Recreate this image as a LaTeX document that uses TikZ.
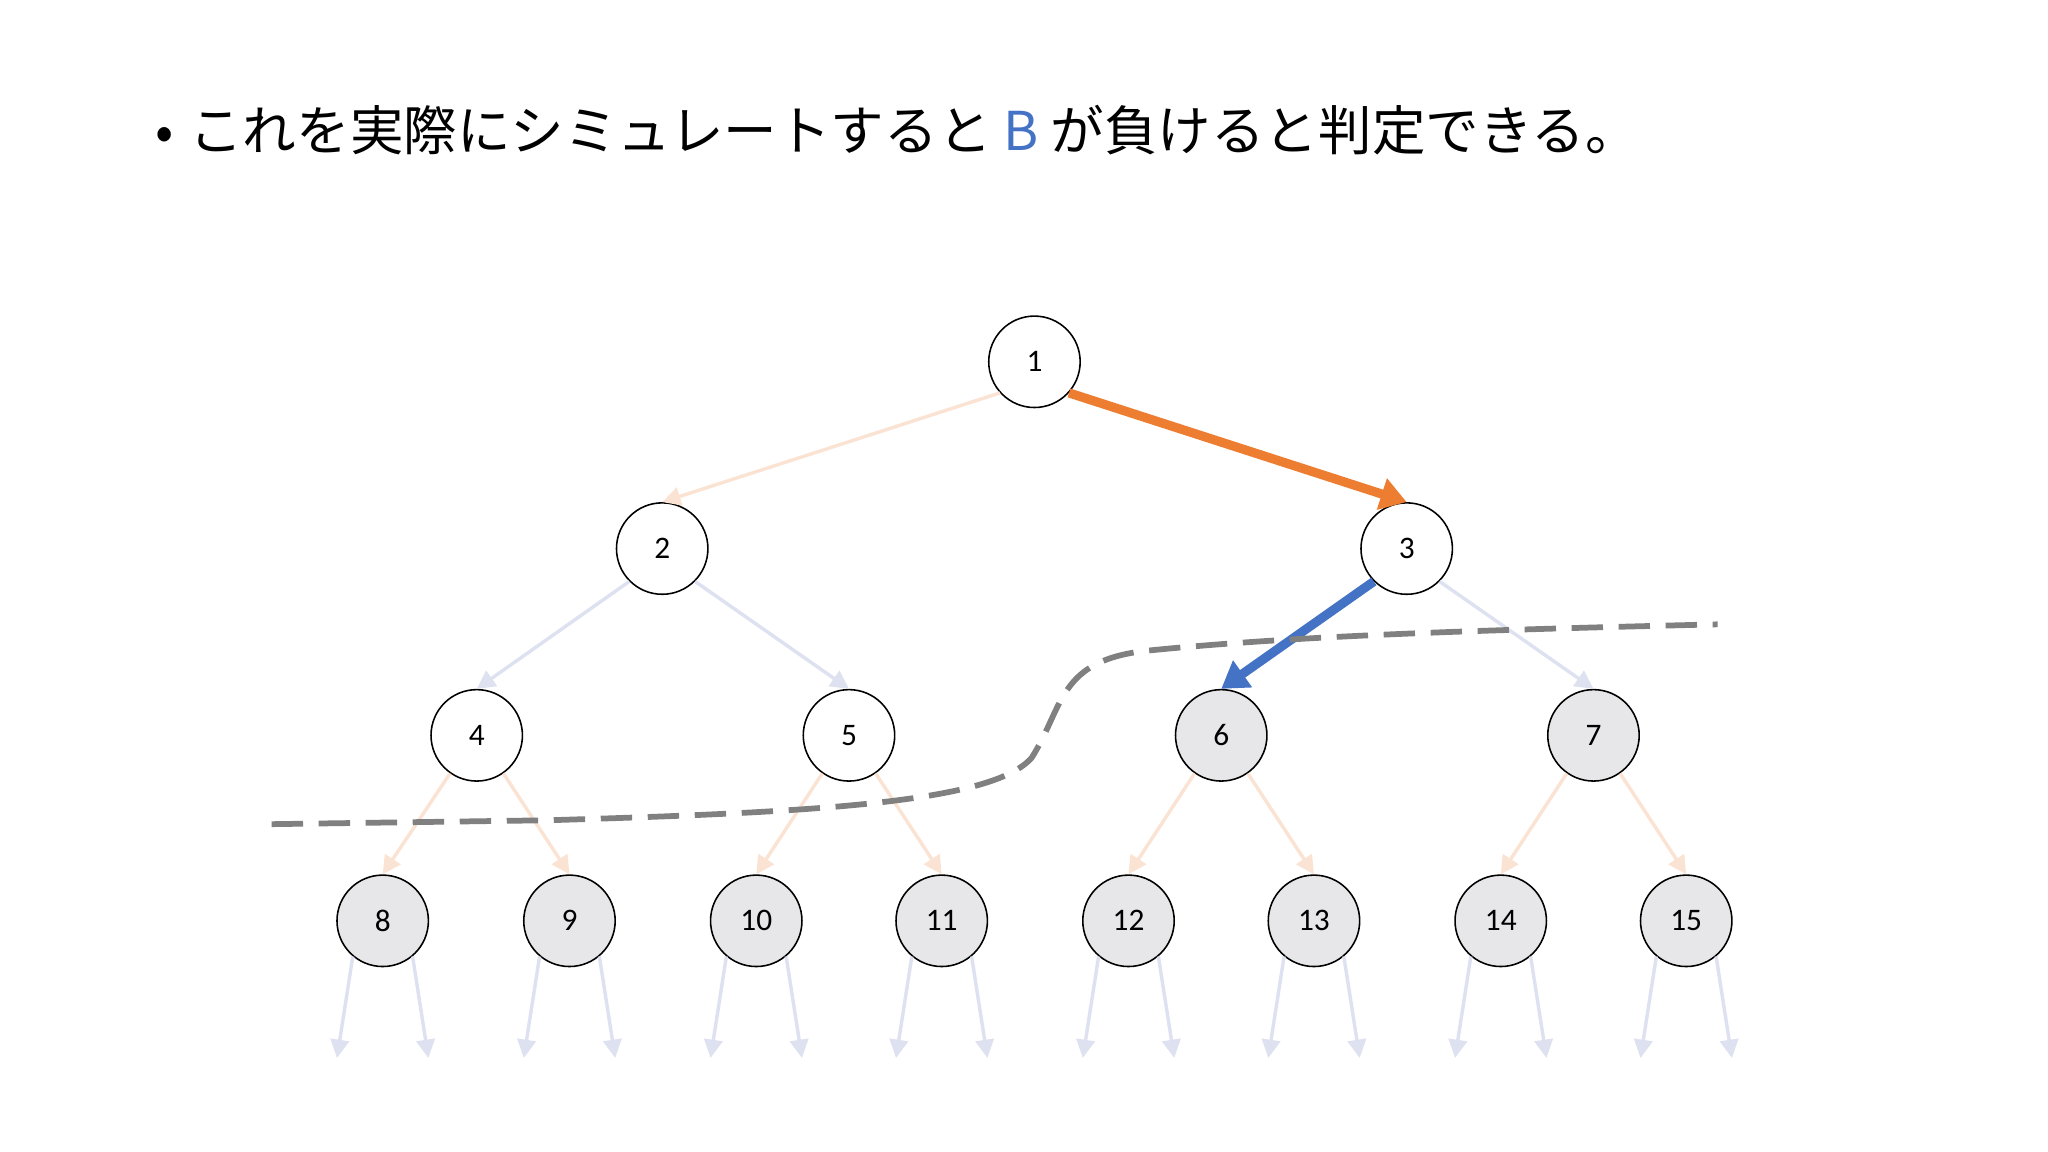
\documentclass[tikz,border=0pt]{standalone}
\usepackage{fontspec}
\setmainfont{Carlito}
\newfontfamily\jp{Noto Sans CJK JP}
\usetikzlibrary{arrows.meta}
\definecolor{borange}{HTML}{ED7D31}
\definecolor{bblue}{HTML}{4472C4}
\definecolor{lorange}{HTML}{FBE3D3}
\definecolor{lblue}{HTML}{DDE1F0}
\definecolor{ngray}{HTML}{E7E6E8}
\tikzset{
 nd/.style={circle,draw=black,line width=0.6pt,minimum size=35pt,inner sep=0pt,font=\fontsize{12}{12}\selectfont,fill=white},
 gnd/.style={nd,fill=ngray},
 arr/.style={-{Triangle[length=7pt,width=7pt]},line width=1.3pt},
 fo/.style={arr,draw=lorange},
 fb/.style={arr,draw=lblue},
 big/.style={arr,line width=3.5pt,-{Triangle[length=10pt,width=12pt]}},
}
\begin{document}
\begin{tikzpicture}[x=0.5pt,y=-0.5pt]
\useasboundingbox[fill=white] (0,0) rectangle (1568,882);
\node[anchor=west,font=\jp\fontsize{20.5}{20.5}\selectfont] (title) at (112,100) {•\hspace{6pt}これを実際にシミュレートすると \textcolor{bblue}{B} が負けると判定できる。};
\node[nd] (n1) at (792,277) {1};
\node[nd] (n2) at (507,420) {2};
\node[nd] (n3) at (1077,420) {3};
\node[nd] (n4) at (365,563) {4};
\node[nd] (n5) at (650,563) {5};
\node[gnd] (n6) at (935,563) {6};
\node[gnd] (n7) at (1220,563) {7};
\foreach \i/\x in {8/293,9/436,10/579,11/721,12/864,13/1006,14/1149,15/1291}{
 \node[gnd] (n\i) at (\x,705) {\i};
 \coordinate (l\i) at (\x-35,810);
 \coordinate (r\i) at (\x+35,810);
 \draw[fb] (n\i.230) -- (l\i);
 \draw[fb] (n\i.310) -- (r\i);
}
\draw[fo] (n1.222) -- (n2.north);
\draw[big,draw=borange] (n1.318) -- (n3.north);
\draw[fb] (n2.225) -- (n4.north);
\draw[fb] (n2.315) -- (n5.north);
\draw[big,draw=bblue] (n3.225) -- (n6.north);
\draw[fb] (n3.315) -- (n7.north);
\foreach \p/\c in {4/8,5/10,6/12,7/14}{\draw[fo] (n\p.235) -- (n\c.north);}
\foreach \p/\c in {4/9,5/11,6/13,7/15}{\draw[fo] (n\p.305) -- (n\c.north);}
\draw[gray,line width=2.2pt,dash pattern=on 12pt off 6pt] (208,631) -- (420,628) .. controls (620,622) and (760,615) .. (790,580) .. controls (815,540) and (810,505) .. (880,498) .. controls (1000,486) and (1150,482) .. (1315,478);
\end{tikzpicture}
\end{document}
